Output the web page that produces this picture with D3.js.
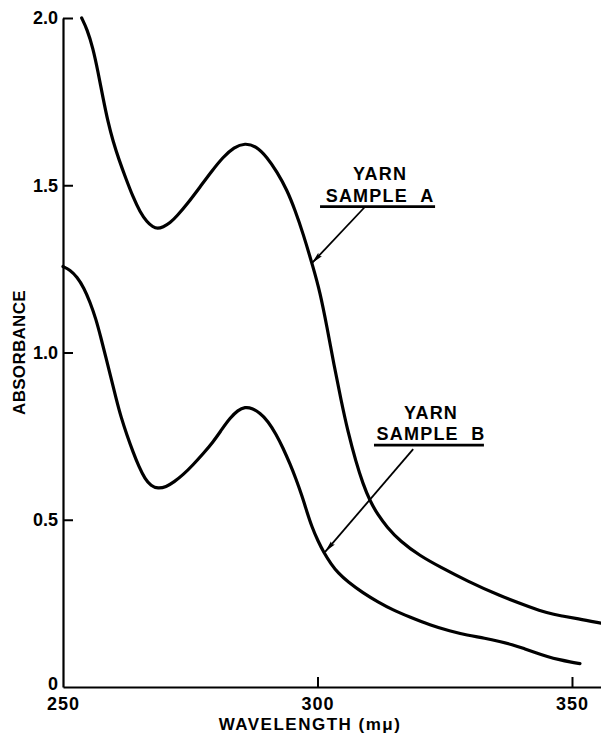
<!DOCTYPE html>
<html>
<head>
<meta charset="utf-8">
<script src="https://cdn.jsdelivr.net/npm/d3@7"></script>
<style>
  html, body { margin: 0; padding: 0; background: #fff; }
  svg { display: block; }
  text { font-family: "Liberation Sans", Arial, sans-serif; font-weight: bold; fill: #000; }
</style>
</head>
<body>
<svg id="chart" width="601" height="733"></svg>
<script>
// ---- data ----
const wavelengthA = [253.67, 254.72, 255.89, 256.88, 257.86, 258.84, 259.82, 261.00, 262.38, 263.75, 265.13, 266.50, 267.68, 268.57, 269.65, 271.02, 272.40, 274.56, 276.92, 279.27, 281.43, 283.60, 285.76, 287.92, 290.08, 292.04, 294.01, 295.58, 297.15, 299.12, 300.49, 301.87, 303.24, 304.62, 305.99, 307.56, 308.94, 310.31, 311.89, 313.65, 316.21, 320.14, 324.07, 329.37, 335.86, 341.75, 345.09, 348.04, 350.98, 355.70];
const absorbanceA = [2.000, 1.967, 1.910, 1.839, 1.761, 1.689, 1.632, 1.576, 1.519, 1.465, 1.420, 1.390, 1.375, 1.370, 1.375, 1.387, 1.408, 1.447, 1.495, 1.543, 1.584, 1.614, 1.626, 1.617, 1.584, 1.540, 1.486, 1.426, 1.357, 1.256, 1.181, 1.076, 0.963, 0.858, 0.762, 0.673, 0.607, 0.556, 0.514, 0.478, 0.436, 0.392, 0.359, 0.317, 0.272, 0.239, 0.221, 0.212, 0.205, 0.191];

const wavelengthB = [250.00, 251.38, 252.75, 254.13, 255.30, 256.48, 257.47, 258.45, 259.43, 260.41, 261.39, 262.57, 263.75, 264.93, 266.11, 267.29, 268.66, 270.24, 271.81, 273.58, 275.54, 277.50, 279.47, 281.24, 282.81, 284.38, 285.76, 287.13, 288.70, 290.28, 291.85, 293.22, 294.60, 295.78, 296.96, 297.94, 298.92, 300.10, 301.28, 302.65, 304.03, 305.99, 308.94, 311.89, 314.83, 318.17, 322.10, 326.03, 329.37, 332.91, 335.86, 338.21, 340.57, 342.93, 345.09, 347.64, 349.61, 351.57];
const absorbanceB = [1.257, 1.247, 1.226, 1.193, 1.151, 1.100, 1.043, 0.984, 0.924, 0.864, 0.807, 0.753, 0.703, 0.658, 0.622, 0.601, 0.593, 0.598, 0.613, 0.634, 0.664, 0.697, 0.732, 0.771, 0.804, 0.828, 0.837, 0.834, 0.819, 0.795, 0.756, 0.715, 0.667, 0.622, 0.571, 0.523, 0.478, 0.436, 0.401, 0.368, 0.341, 0.314, 0.281, 0.254, 0.230, 0.209, 0.185, 0.167, 0.155, 0.146, 0.136, 0.127, 0.115, 0.102, 0.091, 0.081, 0.075, 0.070];

const xTickValues = [250, 300, 350];
const xTickLabels = ["250", "300", "350"];
const yTickValues = [0, 0.5, 1.0, 1.5, 2.0];
const yTickLabels = ["0", "0.5", "1.0", "1.5", "2.0"];

const seriesNames = ["YARN", "SAMPLE\u00A0\u00A0A", "YARN", "SAMPLE\u00A0\u00A0B"];
// annotations (data units): label anchor, underline span, arrow start -> tip
const labelA = { x: 312.3, yLine1: 1.516, yLine2: 1.451, under: [300.5, 323.1, 1.436], arrow: [309.3, 1.435, 298.9, 1.267] };
const labelB = { x: 322.3, yLine1: 0.801, yLine2: 0.738, under: [311.1, 332.7, 0.723], arrow: [318.8, 0.711, 301.5, 0.404] };

// ---- layout ----
const svg = d3.select("#chart");
const x = d3.scaleLinear().domain([250, 355.7]).range([63, 601]);
const y = d3.scaleLinear().domain([0, 2]).range([687, 18]);

svg.append("defs").append("marker")
  .attr("id", "arrow")
  .attr("viewBox", "0 0 12 7")
  .attr("refX", 12).attr("refY", 3.5)
  .attr("markerWidth", 12).attr("markerHeight", 7)
  .attr("markerUnits", "userSpaceOnUse")
  .attr("orient", "auto")
  .append("path").attr("d", "M0,1 L12,3.5 L0,6 L2,3.5 Z").attr("fill", "#000");

const FONT = "Liberation Sans, Arial, sans-serif";

// axes
const yAxis = d3.axisLeft(y)
  .tickValues(yTickValues)
  .tickFormat((d, i) => yTickLabels[i])
  .tickSizeInner(-10).tickSizeOuter(0).tickPadding(5);
const gy = svg.append("g").attr("transform", `translate(${x(250)},0)`).call(yAxis);
gy.select(".domain").attr("stroke-width", 2.2);
gy.selectAll(".tick line").attr("stroke-width", 2).filter(d => d === 0).remove();
gy.selectAll(".tick text")
  .style("font-size", "18px").style("font-family", FONT).style("font-weight", "bold")
  .attr("y", d => d === 0 ? -3 : 0);

const xAxis = d3.axisBottom(x)
  .tickValues(xTickValues)
  .tickFormat((d, i) => xTickLabels[i])
  .tickSizeInner(-10).tickSizeOuter(0).tickPadding(10);
const gx = svg.append("g").attr("transform", `translate(0,${y(0)})`).call(xAxis);
gx.select(".domain").attr("stroke-width", 2.2);
gx.selectAll(".tick line").attr("stroke-width", 2).filter(d => d === 250).remove();
gx.selectAll(".tick text").style("font-size", "18px").style("letter-spacing", "1px").style("font-family", FONT).style("font-weight", "bold");

// axis titles
svg.append("text")
  .attr("x", 310).attr("y", 730)
  .attr("text-anchor", "middle")
  .style("font-size", "17px").style("letter-spacing", "1.5px")
  .text("WAVELENGTH (mμ)");

svg.append("text")
  .attr("transform", `translate(25,${(y(0) + y(2)) / 2}) rotate(-90)`)
  .attr("text-anchor", "middle")
  .style("font-size", "17px").style("letter-spacing", "0.3px")
  .text("ABSORBANCE");

// curves
const line = d3.line().x(d => x(d[0])).y(d => y(d[1])).curve(d3.curveBasis);
const dataA = wavelengthA.map((w, i) => [w, absorbanceA[i]]);
const dataB = wavelengthB.map((w, i) => [w, absorbanceB[i]]);
[dataA, dataB].forEach(d => {
  svg.append("path").datum(d).attr("d", line)
    .attr("fill", "none").attr("stroke", "#000")
    .attr("stroke-width", 3.2).attr("stroke-linecap", "round").attr("stroke-linejoin", "round");
});

// annotations
[[labelA, seriesNames[0], seriesNames[1]], [labelB, seriesNames[2], seriesNames[3]]].forEach(([L, t1, t2]) => {
  svg.append("text").attr("x", x(L.x)).attr("y", y(L.yLine1))
    .attr("text-anchor", "middle").style("font-size", "18px").style("letter-spacing", "1.2px").text(t1);
  svg.append("text").attr("x", x(L.x)).attr("y", y(L.yLine2))
    .attr("text-anchor", "middle").style("font-size", "18px").style("letter-spacing", "1.2px").text(t2);
  svg.append("line")
    .attr("x1", x(L.under[0])).attr("x2", x(L.under[1]))
    .attr("y1", y(L.under[2])).attr("y2", y(L.under[2]))
    .attr("stroke", "#000").attr("stroke-width", 2.6);
  svg.append("line")
    .attr("x1", x(L.arrow[0])).attr("y1", y(L.arrow[1]))
    .attr("x2", x(L.arrow[2])).attr("y2", y(L.arrow[3]))
    .attr("stroke", "#000").attr("stroke-width", 1.8)
    .attr("marker-end", "url(#arrow)");
});
</script>
</body>
</html>
